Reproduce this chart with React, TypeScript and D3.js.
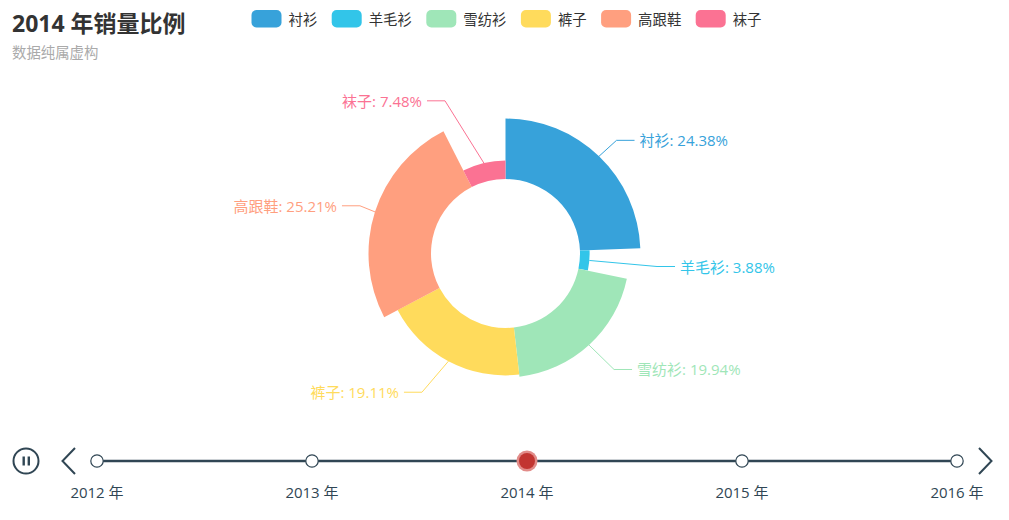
import React from 'react';
import * as d3 from 'd3';

const categories = ['衬衫', '羊毛衫', '雪纺衫', '裤子', '高跟鞋', '袜子'];
const values = [24.38, 3.88, 19.94, 19.11, 25.21, 7.48];
const colors = ['#37a2da', '#32c5e9', '#9fe6b8', '#ffdb5c', '#ff9f7f', '#fb7293'];
const years = ['2012 年', '2013 年', '2014 年', '2015 年', '2016 年'];
const currentIndex = 2;
const titleText = '2014 年销量比例';
const subText = '数据纯属虚构';

const W = 1009;
const H = 520;
const FONT = '"Microsoft YaHei", "Open Sans", "Noto Sans CJK SC", sans-serif';

export default function App() {
  const cx = 505.5;
  const cy = 253.5;
  const r0 = 74.5;
  const R = 137;
  const rScale = d3.scaleLinear().domain([0, d3.max(values) as number]).range([r0, R]);
  const total = d3.sum(values);
  const pie = d3.pie<number>().sort(null).value((d) => d);
  const arcs = pie(values);
  const arcGen = d3.arc<d3.PieArcDatum<number>>()
    .innerRadius(r0)
    .outerRadius((d) => rScale(d.value));

  const rA = R + 20;
  const rB = rA + 11;

  // legend layout
  const lfs = 14.4;
  const iconW = 30, iconH = 17.5, iconGap = 7, itemGap = 14.4;
  const itemWidths = categories.map((c) => iconW + iconGap + c.length * lfs);
  const legendTotal = d3.sum(itemWidths) + itemGap * (categories.length - 1);
  let lx = W / 2 - legendTotal / 2 + 2;
  const legendItems = categories.map((c, i) => {
    const x = lx;
    lx += itemWidths[i] + itemGap;
    return { c, x, color: colors[i] };
  });

  // timeline
  const tx = d3.scalePoint<string>().domain(years).range([97, 957]);
  const ty = 461;
  const tc = '#304654';

  return (
    <svg width={W} height={H} style={{ position: 'fixed', left: 0, top: 0, background: '#fff' }} fontFamily={FONT}>
      <text x={12} y={31.5} fontSize={23} fontWeight="bold" fill="#333">{titleText}</text>
      <text x={12} y={58} fontSize={14.4} fill="#aaa">{subText}</text>

      {legendItems.map((it) => (
        <g key={it.c}>
          <rect x={it.x} y={10} width={iconW} height={iconH} rx={5} fill={it.color} />
          <text x={it.x + iconW + iconGap} y={19} dominantBaseline="central" fontSize={lfs} fill="#333">{it.c}</text>
        </g>
      ))}

      <g transform={`translate(${cx},${cy})`}>
        {arcs.map((a, i) => (
          <path key={i} d={arcGen(a) as string} fill={colors[i]} />
        ))}
      </g>

      {arcs.map((a, i) => {
        const mid = (a.startAngle + a.endAngle) / 2;
        const nx = Math.sin(mid);
        const ny = -Math.cos(mid);
        const rs = rScale(a.value);
        const x1 = cx + rs * nx;
        const y1 = cy + rs * ny;
        const y = cy + rA * ny;
        const dyv = y - cy;
        const dx = rA * Math.sqrt(Math.max(0, 1 - (dyv * dyv) / (rB * rB)));
        const dir = nx < 0 ? -1 : 1;
        const textX = cx + dir * (dx + 18);
        const bendX = cx + dir * (dx - 5);
        const endX = textX - dir * 5;
        const pct = ((values[i] / total) * 100).toFixed(2);
        return (
          <g key={'l' + i}>
            <polyline points={`${x1},${y1} ${bendX},${y} ${endX},${y}`} fill="none" stroke={colors[i]} strokeWidth={1} />
            <text x={textX} y={y} dominantBaseline="central" textAnchor={dir < 0 ? 'end' : 'start'} fontSize={15} fill={colors[i]}>
              {`${categories[i]}: ${pct}%`}
            </text>
          </g>
        );
      })}

      {/* timeline */}
      <circle cx={26} cy={ty} r={12.5} fill="none" stroke={tc} strokeWidth={2} />
      <rect x={22.5} y={456.5} width={2.4} height={9} fill={tc} />
      <rect x={27.6} y={456.5} width={2.4} height={9} fill={tc} />
      <polyline points={`75,448 62.5,${ty} 75,474`} fill="none" stroke={tc} strokeWidth={2} />
      <polyline points={`979,448 991.5,${ty} 979,474`} fill="none" stroke={tc} strokeWidth={2} />
      <line x1={tx(years[0])} x2={tx(years[years.length - 1])} y1={ty} y2={ty} stroke={tc} strokeWidth={2.4} />
      {years.map((y, i) => (
        <g key={y}>
          {i === currentIndex ? (
            <>
              <circle cx={tx(y)} cy={ty} r={10.5} fill="#e28c89" />
              <circle cx={tx(y)} cy={ty} r={8} fill="#c23531" />
            </>
          ) : (
            <circle cx={tx(y)} cy={ty} r={6.2} fill="#fff" stroke={tc} strokeWidth={1.2} />
          )}
          <text x={tx(y)} y={492} textAnchor="middle" dominantBaseline="central" fontSize={15} fill={tc}>{y}</text>
        </g>
      ))}
    </svg>
  );
}
